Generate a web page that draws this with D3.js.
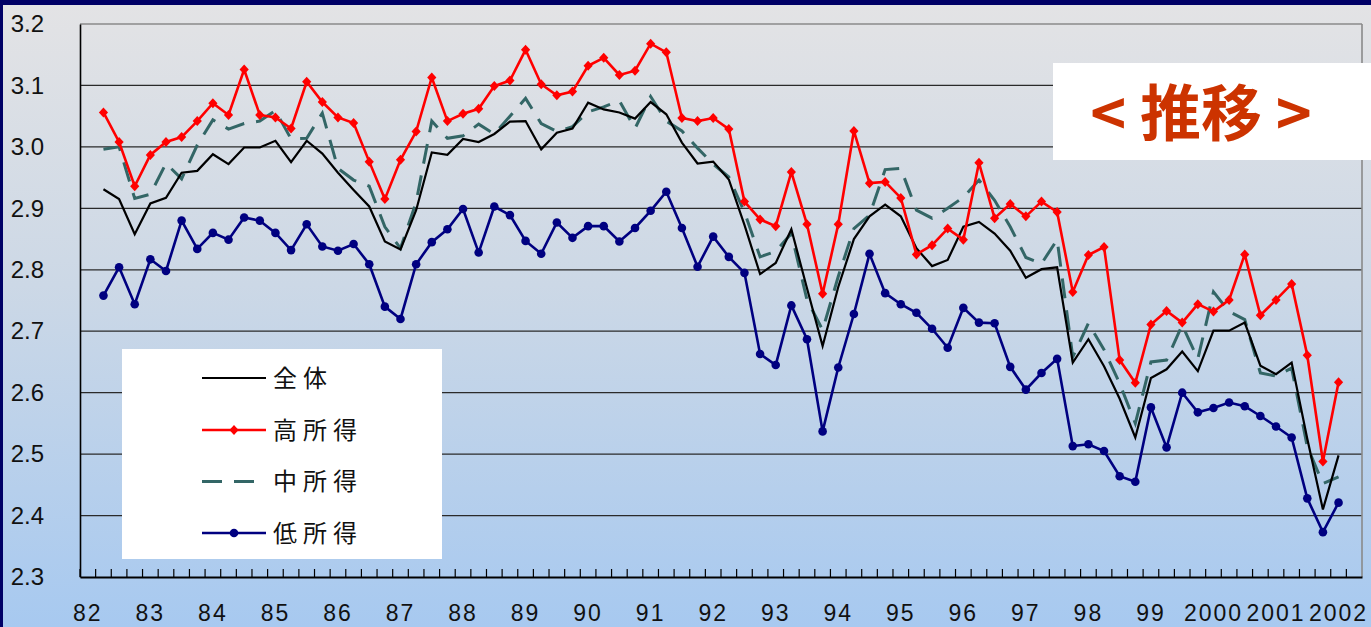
<!DOCTYPE html>
<html><head><meta charset="utf-8">
<script src="https://cdn.jsdelivr.net/npm/d3@7"></script>
<style>html,body{margin:0;padding:0;background:#000066;overflow:hidden}</style>
</head><body>
<svg id="c" width="1371" height="627"></svg>
<script>
// ---- data ----
const yearLabels = ["82","83","84","85","86","87","88","89","90","91","92","93","94","95","96","97","98","99","2000","2001","2002"];
const seriesNames = ["全体","高所得","中所得","低所得"];
const yTicks = [2.3,2.4,2.5,2.6,2.7,2.8,2.9,3.0,3.1,3.2];

const total = [2.931,2.915,2.858,2.908,2.917,2.958,2.961,2.988,2.972,2.999,
 2.999,3.010,2.975,3.010,2.989,2.958,2.930,2.903,2.846,2.833,
 2.897,2.991,2.987,3.013,3.008,3.021,3.041,3.042,2.996,3.023,
 3.030,3.072,3.061,3.056,3.046,3.073,3.053,3.007,2.973,2.976,
 2.947,2.873,2.793,2.811,2.866,2.770,2.676,2.772,2.850,2.887,
 2.906,2.887,2.835,2.806,2.816,2.870,2.878,2.859,2.831,2.787,
 2.801,2.804,2.649,2.687,2.643,2.590,2.527,2.624,2.638,2.667,
 2.635,2.701,2.701,2.714,2.644,2.630,2.649,2.525,2.410,2.498];

const high = [3.056,3.008,2.936,2.987,3.008,3.016,3.042,3.071,3.052,3.126,
 3.052,3.048,3.030,3.106,3.073,3.048,3.039,2.976,2.915,2.979,
 3.025,3.113,3.042,3.054,3.062,3.099,3.108,3.158,3.102,3.084,
 3.090,3.132,3.145,3.117,3.124,3.168,3.154,3.047,3.042,3.047,
 3.029,2.911,2.882,2.871,2.959,2.874,2.761,2.874,3.026,2.941,
 2.943,2.917,2.825,2.840,2.867,2.849,2.974,2.884,2.907,2.887,
 2.911,2.894,2.764,2.824,2.837,2.653,2.616,2.711,2.733,2.714,
 2.744,2.732,2.751,2.825,2.726,2.751,2.777,2.661,2.488,2.617];

const middle = [2.996,3.000,2.916,2.923,2.973,2.948,3.003,3.044,3.029,3.038,
 3.042,3.059,3.013,3.014,3.055,2.965,2.946,2.936,2.870,2.835,
 2.910,3.042,3.014,3.018,3.037,3.021,3.050,3.079,3.038,3.025,
 3.033,3.057,3.065,3.075,3.030,3.082,3.042,3.026,2.998,2.972,
 2.951,2.894,2.821,2.830,2.859,2.751,2.702,2.789,2.867,2.889,
 2.963,2.965,2.897,2.884,2.900,2.918,2.946,2.913,2.870,2.820,
 2.810,2.849,2.658,2.713,2.670,2.615,2.550,2.650,2.653,2.710,
 2.655,2.764,2.732,2.719,2.632,2.627,2.640,2.512,2.452,2.463];

const low = [2.758,2.804,2.744,2.817,2.798,2.880,2.834,2.860,2.849,2.885,
 2.880,2.860,2.832,2.874,2.838,2.831,2.842,2.809,2.740,2.720,
 2.809,2.845,2.866,2.899,2.828,2.903,2.889,2.847,2.826,2.877,
 2.852,2.871,2.871,2.846,2.868,2.896,2.927,2.868,2.805,2.854,
 2.821,2.795,2.663,2.645,2.742,2.687,2.537,2.641,2.728,2.826,
 2.762,2.744,2.730,2.704,2.673,2.738,2.714,2.713,2.642,2.605,
 2.632,2.655,2.513,2.516,2.505,2.464,2.455,2.576,2.511,2.600,
 2.568,2.575,2.584,2.578,2.562,2.545,2.527,2.428,2.373,2.421];

// categories: quarterly slots, a year label on every 4th slot, 82 slots in all
const categories = d3.range(82);
const categoryLabel = i => (i % 4 === 0 && yearLabels[i/4] !== undefined) ? yearLabels[i/4] : "";
const firstSlot = 1; // data begin on the 2nd slot

// ---- layout ----
const W = 1371, H = 627;
const plot = {l: 80, r: 1362, t: 24, b: 577};
const svg = d3.select("#c");

const defs = svg.append("defs");
const grad = defs.append("linearGradient").attr("id","bg").attr("x1",0).attr("y1",0).attr("x2",0).attr("y2",1);
grad.append("stop").attr("offset","0%").attr("stop-color","#e3e3e5");
grad.append("stop").attr("offset","45%").attr("stop-color","#ccd8e6");
grad.append("stop").attr("offset","100%").attr("stop-color","#a7c9f0");

svg.append("rect").attr("x",0).attr("y",0).attr("width",W).attr("height",H).attr("fill","#000066");
svg.append("rect").attr("x",3).attr("y",5).attr("width",W-3).attr("height",H-5).attr("fill","url(#bg)");

const x = d3.scaleBand().domain(categories).range([plot.l, plot.r]).padding(0);
const y = d3.scaleLinear().domain([2.3, 3.2]).range([plot.b, plot.t]);
const cx = i => x(i + firstSlot) + x.bandwidth()/2;

// gridlines
svg.append("g").selectAll("line").data(yTicks.slice(1)).join("line")
  .attr("x1", plot.l).attr("x2", plot.r)
  .attr("y1", d => y(d)).attr("y2", d => y(d))
  .attr("stroke", d => d === 3.2 ? "#8a8a8a" : "#2a2a2a").attr("stroke-width", d => d===3.2?1.6:1.3);
// right border
svg.append("line").attr("x1",plot.r).attr("x2",plot.r).attr("y1",plot.t).attr("y2",plot.b)
  .attr("stroke","#8a8a8a").attr("stroke-width",1.6);

// y axis
const yAxis = svg.append("g").attr("transform",`translate(${plot.l},0)`)
  .call(d3.axisLeft(y).tickValues(yTicks).tickFormat(d3.format(".1f")).tickSize(0).tickPadding(36));
yAxis.select(".domain").attr("stroke","#000").attr("stroke-width",1.6);
yAxis.selectAll("text").attr("font-family","'Liberation Sans', Arial, sans-serif").attr("font-size",24).attr("fill","#111");

// x axis
const xAxis = svg.append("g").attr("transform",`translate(0,${plot.b})`)
  .call(d3.axisBottom(x).tickValues(categories).tickFormat(categoryLabel).tickSizeInner(-8).tickSizeOuter(0).tickPadding(28));
xAxis.select(".domain").attr("stroke","#000").attr("stroke-width",1.8);
xAxis.selectAll(".tick line").attr("stroke","#000").attr("stroke-width",1.2)
  .attr("transform", `translate(${-x.bandwidth()/2},0)`);
xAxis.selectAll("text").attr("font-family","'Liberation Sans', Arial, sans-serif").attr("font-size",23).attr("fill","#111").attr("letter-spacing",2);

// series
const series = [
  {name: seriesNames[0], values: total, color: "#000000", width: 2.2, dash: null, marker: null},
  {name: seriesNames[1], values: high, color: "#ff0000", width: 2.6, dash: null, marker: "diamond"},
  {name: seriesNames[2], values: middle, color: "#336666", width: 3, dash: "20,12", marker: null},
  {name: seriesNames[3], values: low, color: "#000080", width: 2.6, dash: null, marker: "circle"}
];
const drawOrder = [3, 2, 0, 1];
const line = d3.line().x((d,i) => cx(i)).y(d => y(d));
const diamond = "M0,-5L4.6,0L0,5L-4.6,0Z";

drawOrder.forEach(k => {
  const s = series[k];
  const g = svg.append("g");
  g.append("path").datum(s.values).attr("d", line).attr("fill","none")
    .attr("stroke", s.color).attr("stroke-width", s.width).attr("stroke-linejoin","miter")
    .attr("stroke-dasharray", s.dash);
  if (s.marker === "circle") {
    g.selectAll("circle").data(s.values).join("circle")
      .attr("cx", (d,i) => cx(i)).attr("cy", d => y(d)).attr("r", 4.3).attr("fill", s.color);
  } else if (s.marker === "diamond") {
    g.selectAll("path.m").data(s.values).join("path").attr("class","m")
      .attr("d", diamond).attr("transform", (d,i) => `translate(${cx(i)},${y(d)})`).attr("fill", s.color);
  }
});

// legend
const lg = svg.append("g");
lg.append("rect").attr("x",122).attr("y",349).attr("width",320).attr("height",210).attr("fill","#fff");
const rows = [378, 430, 481.5, 533];
series.forEach((s, k) => {
  const yy = rows[k];
  lg.append("line").attr("x1",202).attr("x2",266).attr("y1",yy).attr("y2",yy)
    .attr("stroke", s.color).attr("stroke-width", s.width).attr("stroke-dasharray", s.dash);
  if (s.marker === "circle") lg.append("circle").attr("cx",234).attr("cy",yy).attr("r",4.3).attr("fill",s.color);
  if (s.marker === "diamond") lg.append("path").attr("d",diamond).attr("transform",`translate(234,${yy})`).attr("fill",s.color);
  lg.append("text").attr("x",273).attr("y",yy).attr("dy","0.36em")
    .attr("font-family","'Noto Sans CJK JP', sans-serif").attr("font-size",24).attr("letter-spacing",6)
    .attr("fill","#111").text(s.name);
});

// title box
svg.append("rect").attr("x",1053).attr("y",63).attr("width",W-1053).attr("height",97).attr("fill","#fff");
svg.append("text").attr("x",1201).attr("y",114).attr("dy","0.36em").attr("text-anchor","middle")
  .attr("font-family","'Noto Sans CJK JP', sans-serif").attr("font-weight","bold").attr("font-size",61)
  .attr("fill","#cc3300").text("< 推移 >");
</script>
</body></html>
